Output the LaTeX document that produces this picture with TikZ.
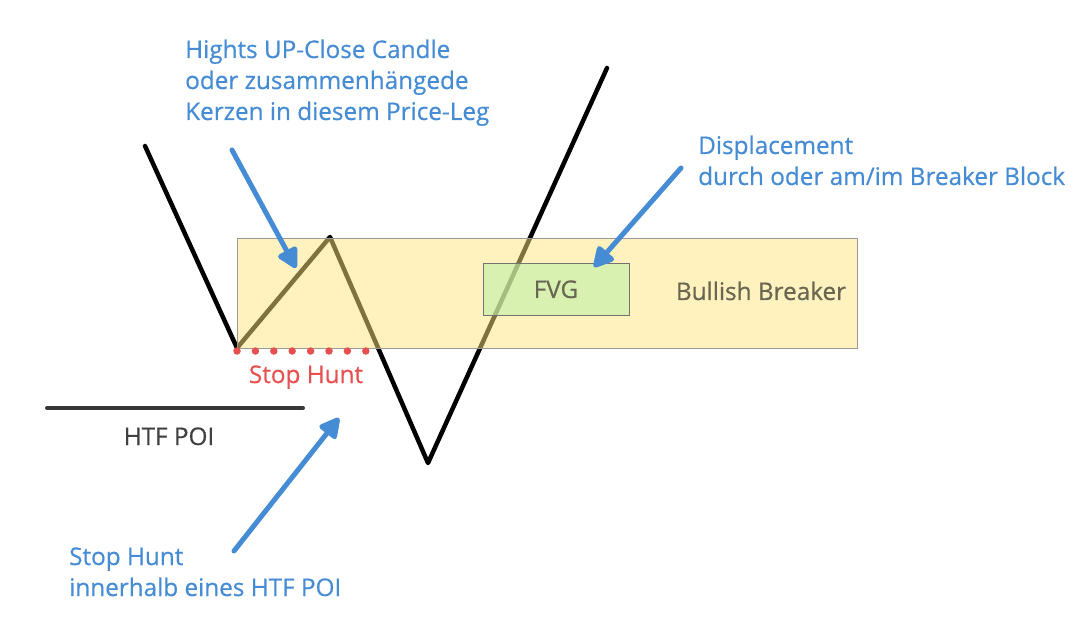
\documentclass[tikz,border=0pt]{standalone}
\usepackage{fontspec}
\setmainfont{Open Sans}[FakeBold=0.5]
\usetikzlibrary{arrows.meta}
\definecolor{ablue}{RGB}{70,140,212}
\definecolor{byellow}{RGB}{255,229,125}
\definecolor{fgreen}{RGB}{190,240,170}
\definecolor{sred}{RGB}{230,80,80}
\definecolor{tgray}{RGB}{105,102,82}
\tikzset{
  pricel/.style={line width=4.5pt, black, line join=round, line cap=round},
  callout/.style={line width=5pt, ablue, line cap=round, -{Triangle[length=23pt,width=23pt,round]}},
  bluetext/.style={text=ablue, font=\fontsize{24.3}{31}\selectfont, align=left, inner sep=0pt, anchor=base west},
  boxtext/.style={text=tgray, font=\fontsize{24.3}{28}\selectfont, inner sep=0pt, anchor=base},
}
\begin{document}
\begin{tikzpicture}[x=1pt,y=-1pt]
\useasboundingbox (0,0) rectangle (1084,644);
% price leg
\coordinate (p1) at (145,146);
\coordinate (p2) at (237,348);
\coordinate (p3) at (330,237);
\coordinate (p4) at (428,463);
\coordinate (p5) at (607,68);
\draw[pricel] (p1) -- (p2) -- (p3) -- (p4) -- (p5);
% breaker block
\node[draw=gray!80, line width=1.2pt, fill=byellow, fill opacity=0.5, minimum width=620pt, minimum height=110pt, anchor=north west, inner sep=0pt] (bb) at (237,238) {};
\node[draw=gray!90!black, line width=1.2pt, fill=fgreen, fill opacity=0.6, minimum width=146pt, minimum height=52pt, anchor=north west, inner sep=0pt] (fvg) at (483,263) {};
\node[boxtext] (fvgl) at (556,298) {FVG};
\node[boxtext] (bbl) at (761,300) {Bullish Breaker};
% stop hunt dots
\coordinate (s1) at (237,351);
\coordinate (s2) at (367,351);
\draw[sred, line width=7.5pt, line cap=round, dash pattern=on 0pt off 18.4pt] (s1) -- (s2);
\node[boxtext, text=sred] (sh) at (306,383) {Stop Hunt};
% HTF POI
\coordinate (h1) at (47,408);
\coordinate (h2) at (303,408);
\draw[line width=4pt, black!78, line cap=round] (h1) -- (h2);
\node[boxtext, text=black!75] (htf) at (169,445) {HTF POI};
% labels (anchored at the baseline of the last line)
\node[bluetext] (t1) at (185,120) {Hights UP-Close Candle\\oder zusammenhängede\\Kerzen in diesem Price-Leg};
\node[bluetext] (t2) at (698,185) {Displacement\\durch oder am/im Breaker Block};
\node[bluetext] (t3) at (69,596) {Stop Hunt\\innerhalb eines HTF POI};
% arrows
\coordinate (a1s) at (232,150);
\coordinate (a1e) at (296,268);
\coordinate (a2s) at (681,168);
\coordinate (a2e) at (594,267);
\coordinate (a3s) at (234,551);
\coordinate (a3e) at (339,418);
\draw[callout] (a1s) -- (a1e);
\draw[callout] (a2s) -- (a2e);
\draw[callout] (a3s) -- (a3e);
\end{tikzpicture}
\end{document}
